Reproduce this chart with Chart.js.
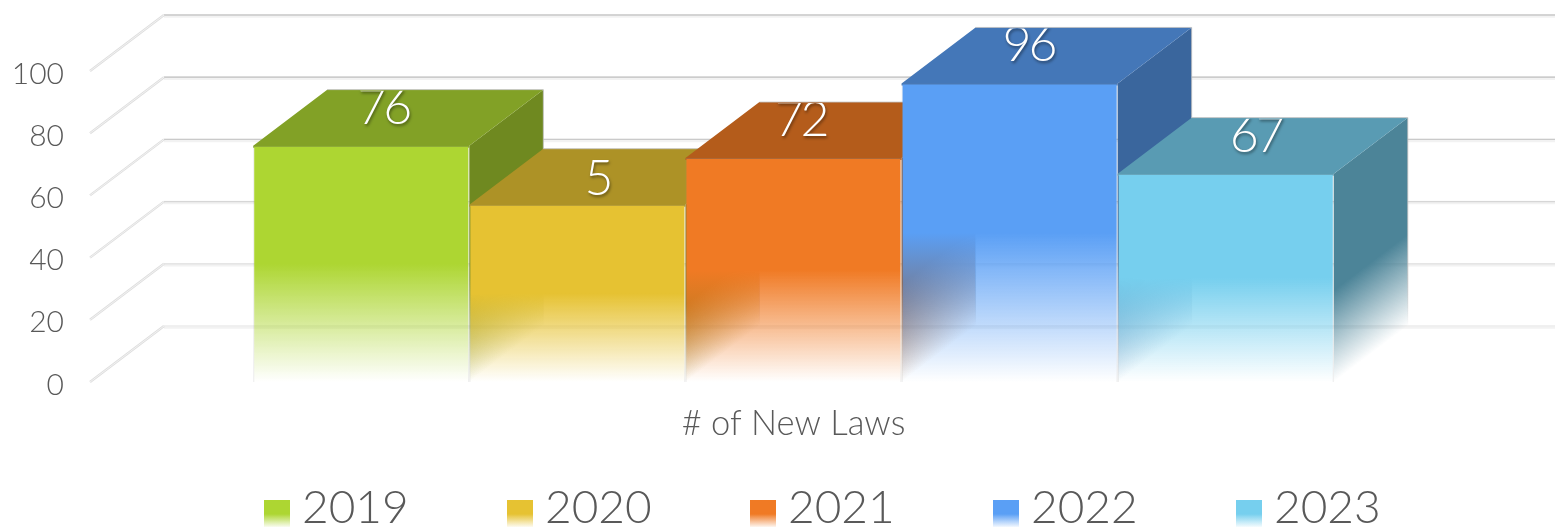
<!DOCTYPE html>
<html>
<head>
<meta charset="utf-8">
<title># of New Laws</title>
<script src="https://cdn.jsdelivr.net/npm/chart.js@4/dist/chart.umd.min.js"></script>
<style>
    html, body { margin: 0; padding: 0; background: #fff; overflow: hidden; }
    #wrap { position: relative; width: 1555px; height: 527px; }
    #legend { position: absolute; left: 264px; top: 487px; display: flex; color: #595959; font: 300 46px Lato, sans-serif; line-height: 46px; }
    #legend .item { width: 243px; display: flex; align-items: flex-end; height: 42px; }
    #legend .swatch { width: 26px; height: 28px; margin-right: 12px; margin-bottom: 1px; }
</style>
</head>
<body>
<div id="wrap">
    <canvas id="lawsChart" width="1555" height="527"></canvas>
    <div id="legend"></div>
</div>
<script>
const categories = ["# of New Laws"];
const years = ["2019", "2020", "2021", "2022", "2023"];
const newLaws = [76, 57, 72, 96, 67];
// the 2020 bar stands at 57, its printed label is just "5"
const barLabels = ["76", "5", "72", "96", "67"];
const barColors = ["#add632", "#e6c232", "#f07a24", "#5a9ff5", "#76cfee"];
const yTicks = [0, 20, 40, 60, 80, 100];

const FONT = "Lato, sans-serif";
const DEPTH_X = 74;
const DEPTH_Y = -56;
// labels were nudged by hand along the top face, not centred on it
const LABEL_SHIFT_X = [22, 20, 7, 19, 30];

function rgba(hex, factor, alpha) {
    const n = parseInt(hex.slice(1), 16);
    const r = Math.round((n >> 16 & 255) * factor);
    const g = Math.round((n >> 8 & 255) * factor);
    const b = Math.round((n & 255) * factor);
    return `rgba(${r},${g},${b},${alpha})`;
}

// Solid for the upper half of a bar, then fades out towards the floor
function frontFill(context) {
    const { chart, datasetIndex, dataset } = context;
    if (!chart.chartArea) return dataset.baseColor;
    const top = chart.scales.y.getPixelForValue(newLaws[datasetIndex]);
    const base = chart.scales.y.getPixelForValue(0);
    const grad = chart.ctx.createLinearGradient(0, top, 0, base);
    grad.addColorStop(0, rgba(dataset.baseColor, 1, 1));
    grad.addColorStop(0.5, rgba(dataset.baseColor, 1, 1));
    grad.addColorStop(1, rgba(dataset.baseColor, 1, 0));
    return grad;
}

function polygon(ctx, points, fill) {
    ctx.beginPath();
    points.forEach((p, i) => i ? ctx.lineTo(p[0], p[1]) : ctx.moveTo(p[0], p[1]));
    ctx.closePath();
    ctx.fillStyle = fill;
    ctx.fill();
}

function drawWalls(chart) {
    const ctx = chart.ctx;
    const y = chart.scales.y;
    const left = chart.chartArea.left;
    ctx.save();
    yTicks.forEach(value => {
        const py = y.getPixelForValue(value);
        const backY = py + DEPTH_Y;
        // lines get darker going up the wall
        const shade = 236 - Math.round(value * 0.56);

        ctx.strokeStyle = "#f2f2f2";
        ctx.lineWidth = 3.5;
        ctx.beginPath();
        ctx.moveTo(left + DEPTH_X, backY + 1);
        ctx.lineTo(chart.width, backY + 1);
        ctx.stroke();

        ctx.strokeStyle = `rgb(${shade},${shade},${shade})`;
        ctx.lineWidth = 1.2;
        ctx.beginPath();
        ctx.moveTo(left + DEPTH_X, backY);
        ctx.lineTo(chart.width, backY);
        ctx.stroke();

        // floor side of the wall, pale double line
        ctx.strokeStyle = "#dedede";
        ctx.lineWidth = 2.4;
        ctx.beginPath();
        ctx.moveTo(left, py);
        ctx.lineTo(left + DEPTH_X, backY);
        ctx.stroke();
        ctx.strokeStyle = "#f6f6f6";
        ctx.lineWidth = 0.8;
        ctx.stroke();
    });
    ctx.restore();
}

function drawSideAndTop(chart, bar, color) {
    const ctx = chart.ctx;
    const right = bar.x + bar.width / 2;
    const left = bar.x - bar.width / 2;
    const top = bar.y;
    const base = bar.base;

    // fade runs across the depth edges, so the colour bands follow the slant
    const mid = (top + base) / 2;
    const len = Math.hypot(DEPTH_X, DEPTH_Y);
    const nx = -DEPTH_Y / len;
    const ny = DEPTH_X / len;
    const reach = (base - mid) * ny;
    const grad = ctx.createLinearGradient(right, mid, right + nx * reach, mid + ny * reach);
    grad.addColorStop(0, rgba(color, 0.64, 1));
    grad.addColorStop(0.12, rgba(color, 0.64, 1));
    grad.addColorStop(1, rgba(color, 0.64, 0));
    polygon(ctx, [
        [right, top],
        [right + DEPTH_X, top + DEPTH_Y],
        [right + DEPTH_X, base + DEPTH_Y],
        [right, base]
    ], grad);

    // runs a little under the front edge so no seam shows between the faces
    polygon(ctx, [
        [left, top + 2],
        [left, top],
        [left + DEPTH_X, top + DEPTH_Y],
        [right + DEPTH_X, top + DEPTH_Y],
        [right, top],
        [right, top + 2]
    ], rgba(color, 0.75, 1));

    // thin pale outline round the back of the box
    const edge = ctx.createLinearGradient(0, top, 0, base + DEPTH_Y);
    edge.addColorStop(0, "rgba(190,190,190,0.8)");
    edge.addColorStop(0.7, "rgba(190,190,190,0.8)");
    edge.addColorStop(1, "rgba(190,190,190,0)");
    ctx.strokeStyle = edge;
    ctx.lineWidth = 1;
    ctx.beginPath();
    ctx.moveTo(left + DEPTH_X, top + DEPTH_Y);
    ctx.lineTo(right + DEPTH_X, top + DEPTH_Y);
    ctx.lineTo(right + DEPTH_X, base + DEPTH_Y);
    ctx.stroke();
}

function drawBarLabel(chart, bar, text, shiftX) {
    const ctx = chart.ctx;
    const faceTop = bar.y + DEPTH_Y;
    // single digit sits a little lower on the top face
    const lift = text.length > 1 ? 22 : 10;
    ctx.save();
    ctx.beginPath();
    ctx.rect(bar.x - bar.width / 2, faceTop + 1, bar.width + DEPTH_X, chart.height);
    ctx.clip();
    ctx.font = `300 50px ${FONT}`;
    ctx.letterSpacing = "-3px";
    ctx.textAlign = "center";
    ctx.textBaseline = "alphabetic";
    ctx.fillStyle = "#ffffff";
    ctx.shadowColor = "rgba(0,0,0,0.45)";
    ctx.shadowBlur = 3;
    ctx.shadowOffsetX = 1;
    ctx.shadowOffsetY = 2;
    ctx.fillText(text, bar.x + shiftX, bar.y - lift);
    ctx.restore();
}

// Chart.js paints grouped bars right to left, these need left to right
// so that each box covers the side of the one before it
const boxBars = {
    id: "boxBars",
    beforeDatasetsDraw(chart) {
        drawWalls(chart);
        const metas = chart.getSortedVisibleDatasetMetas();
        metas.forEach(meta => {
            drawSideAndTop(chart, meta.data[0], barColors[meta.index]);
            meta.controller.draw();
        });
        metas.forEach(meta => drawBarLabel(chart, meta.data[0], barLabels[meta.index], LABEL_SHIFT_X[meta.index]));
        return false;
    }
};

new Chart(document.getElementById("lawsChart"), {
    type: "bar",
    data: {
        labels: categories,
        datasets: years.map((year, i) => ({
            label: year,
            data: [newLaws[i]],
            baseColor: barColors[i],
            backgroundColor: frontFill,
            borderWidth: 1,
            borderColor: "rgba(150,150,150,0.22)",
            barPercentage: 1,
            categoryPercentage: 0.768
        }))
    },
    plugins: [boxBars],
    options: {
        responsive: false,
        animation: false,
        layout: { padding: { top: 71, right: 58, left: 0, bottom: 0 } },
        plugins: {
            legend: { display: false },
            tooltip: { enabled: false }
        },
        scales: {
            y: {
                min: 0,
                max: 100,
                afterBuildTicks(scale) { scale.ticks = yTicks.map(value => ({ value })); },
                afterFit(scale) { scale.width = 90; },
                grid: { display: false },
                border: { display: false },
                ticks: { color: "#595959", padding: 18, labelOffset: 3, font: { family: FONT, size: 30, weight: 300 } }
            },
            x: {
                afterFit(scale) { scale.height = 145; },
                grid: { display: false },
                border: { display: false },
                ticks: { color: "#595959", padding: 13, font: { family: FONT, size: 34.5, weight: 300 } }
            }
        }
    }
});

// Legend sits under the canvas as plain elements
const legend = document.getElementById("legend");
years.forEach((year, i) => {
    const item = document.createElement("div");
    item.className = "item";
    const swatch = document.createElement("span");
    swatch.className = "swatch";
    swatch.style.background = `linear-gradient(${rgba(barColors[i], 1, 1)} 50%, ${rgba(barColors[i], 1, 0)})`;
    const text = document.createElement("span");
    text.innerText = year;
    item.append(swatch, text);
    legend.append(item);
});
</script>
</body>
</html>
